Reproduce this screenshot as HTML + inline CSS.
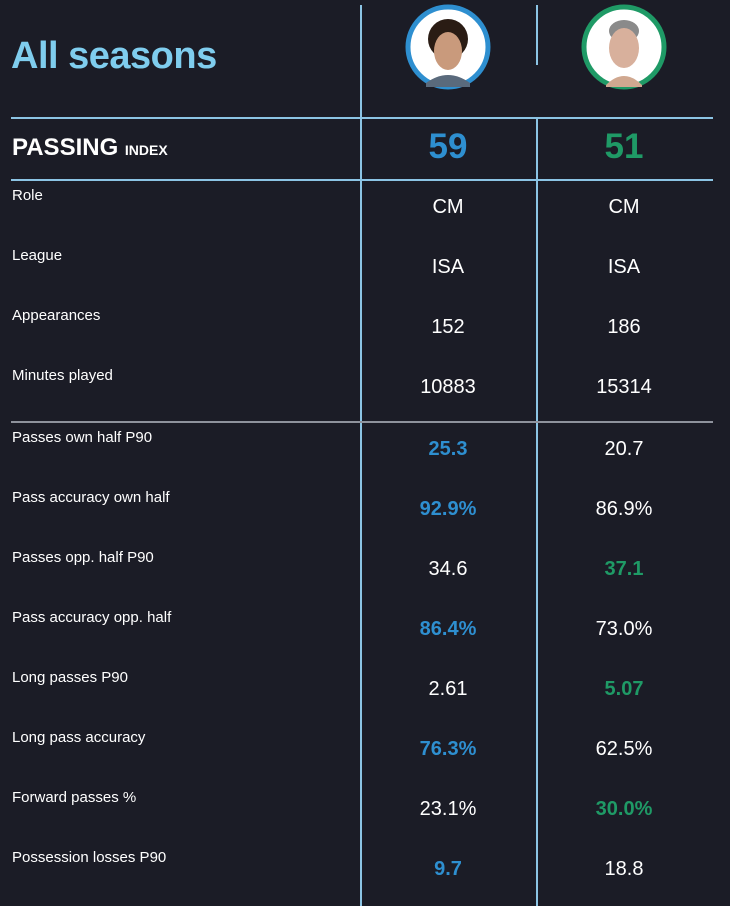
<!DOCTYPE html>
<html><head><meta charset="utf-8">
<style>
body{margin:0;background:#1b1c26;}
#root{position:relative;width:730px;height:906px;background:#1b1c26;overflow:hidden;font-family:"Liberation Sans",sans-serif;color:#fff;}
.abs{position:absolute;}
.vl{position:absolute;width:2px;background:#8cc4e4;}
.hl{position:absolute;height:2px;left:11px;width:702px;background:#8cc4e4;}
.lbl{position:absolute;left:12px;font-size:15px;color:#fff;}
.val{position:absolute;width:150px;text-align:center;font-size:20px;color:#fff;}
.b{font-weight:bold;}
</style></head><body>
<div id="root">
  <div class="abs" style="left:11px;top:35px;font-size:38px;font-weight:bold;color:#7fcdee;letter-spacing:-0.5px;">All seasons</div>
  <div class="vl" style="left:360px;top:5px;height:901px;"></div>
  <div class="vl" style="left:536px;top:5px;height:60px;"></div>
  <div class="vl" style="left:536px;top:118px;height:788px;"></div>
  <div class="hl" style="top:117px;"></div>
  <div class="hl" style="top:179px;"></div>
  <div class="hl" style="top:421px;background:#8e929c;"></div>

  <svg class="abs" style="left:404px;top:3px" width="88" height="88">
    <circle cx="44" cy="44" r="40" fill="#fff" stroke="#2e8fd0" stroke-width="5"/>
    <ellipse cx="44" cy="36" rx="20" ry="20" fill="#2a1c14"/>
    <ellipse cx="44" cy="48" rx="14" ry="19" fill="#c99a7c"/>
    <path d="M22 80 Q44 64 66 80 L66 84 L22 84Z" fill="#5a6a7c"/>
  </svg>
  <svg class="abs" style="left:580px;top:3px" width="88" height="88">
    <circle cx="44" cy="44" r="40" fill="#fff" stroke="#1f9a66" stroke-width="5"/>
    <ellipse cx="44" cy="28" rx="15" ry="11" fill="#8a8a8a"/>
    <ellipse cx="44" cy="45" rx="15" ry="20" fill="#d8b09c"/>
    <path d="M26 82 Q44 64 62 82 L62 84 L26 84Z" fill="#d0a890"/>
  </svg>

  <div class="abs" style="left:12px;top:134px;font-size:24px;font-weight:bold;">PASSING <span style="font-size:14px">INDEX</span></div>
  <div class="abs b" style="left:373px;width:150px;text-align:center;top:127px;font-size:35px;color:#2e8fd0;">59</div>
  <div class="abs b" style="left:549px;width:150px;text-align:center;top:127px;font-size:35px;color:#1f9a66;">51</div>
</div>
<script>
const labels=["Role","League","Appearances","Minutes played","Passes own half P90","Pass accuracy own half","Passes opp. half P90","Pass accuracy opp. half","Long passes P90","Long pass accuracy","Forward passes %","Possession losses P90"];
const p1Values=["CM","ISA","152","10883","25.3","92.9%","34.6","86.4%","2.61","76.3%","23.1%","9.7"];
const p2Values=["CM","ISA","186","15314","20.7","86.9%","37.1","73.0%","5.07","62.5%","30.0%","18.8"];
const winner=[0,0,0,0,1,1,2,1,2,1,2,1];
const root=document.getElementById('root');
labels.forEach((l,i)=>{
  const top=180+i*60+(i>=4?2:0);
  const lb=document.createElement('div');
  lb.className='lbl';lb.style.top=(top+7)+'px';lb.textContent=l;
  
  
  root.appendChild(lb);
  [[p1Values,373,1,'#2e8fd0'],[p2Values,549,2,'#1f9a66']].forEach(([arr,x,w,c])=>{
    const v=document.createElement('div');
    v.className='val';v.style.left=x+'px';v.style.top=(top+16)+'px';v.textContent=arr[i];
    if(winner[i]===w){v.style.color=c;v.style.fontWeight='bold';}
    
    
    root.appendChild(v);
  });
});
</script>
</body></html>
